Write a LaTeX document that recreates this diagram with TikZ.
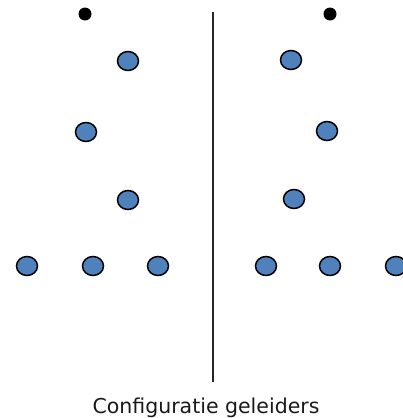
\documentclass[tikz,border=0pt]{standalone}
\usepackage{fontspec}
\setmainfont{DejaVu Sans}
\definecolor{condblue}{RGB}{79,129,189}
\usetikzlibrary{shapes.geometric,positioning}
\tikzset{
  conductor/.style={ellipse, minimum width=21pt, minimum height=19pt, inner sep=0pt,
                    draw=black, line width=1.5pt, fill=condblue},
  earthwire/.style={circle, minimum size=13pt, inner sep=0pt, fill=black},
  sepline/.style={line width=1.2pt, black!85},
  caption/.style={font=\fontsize{20.5}{24}\selectfont, text=black!90, inner sep=0pt},
}
\begin{document}
\begin{tikzpicture}[x=1pt,y=-1pt]
  \useasboundingbox (0,0) rectangle (402,418);

  % left configuration
  \node[earthwire] (lg) at (85,14) {};
  \node[conductor] (la) at (128,61) {};
  \node[conductor] (lb) at (86,132) {};
  \node[conductor] (lc) at (128,200) {};
  \foreach \x/\n in {27/1,93/2,158/3}
    \node[conductor] (ld\n) at (\x,266) {};

  % right configuration
  \node[earthwire] (rg) at (330,14) {};
  \node[conductor] (ra) at (291,60) {};
  \node[conductor] (rb) at (327,131) {};
  \node[conductor] (rc) at (294,199) {};
  \foreach \x/\n in {266/1,330/2,396/3}
    \node[conductor] (rd\n) at (\x,266) {};

  % separator
  \coordinate (septop) at (213,12);
  \coordinate (sepbot) at (213,382);
  \draw[sepline] (septop) -- (sepbot);

  \node[caption,anchor=base] (cap) at (206,413) {Configuratie geleiders};
\end{tikzpicture}
\end{document}
